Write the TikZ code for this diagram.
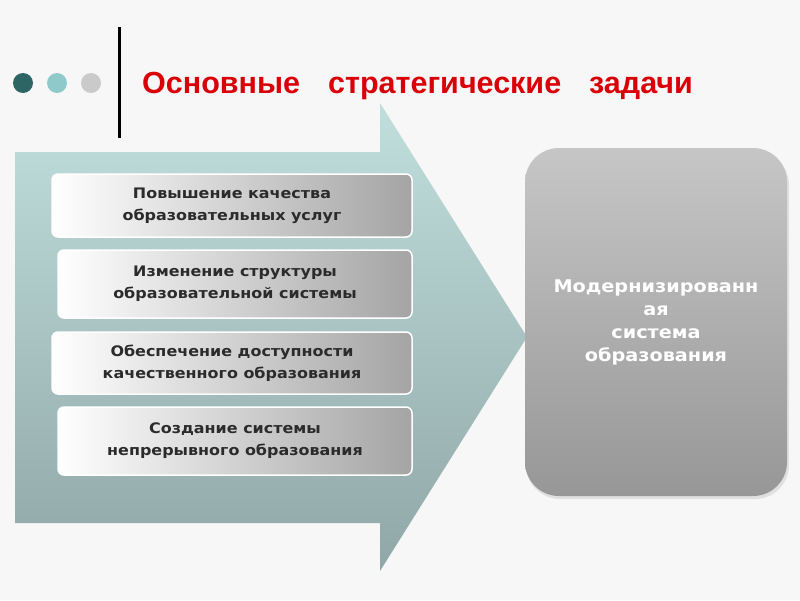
\documentclass[tikz,border=0pt]{standalone}
\usepackage{fontspec}
\setmainfont{DejaVu Sans}
\newfontfamily\wideface[FakeStretch=1.1]{DejaVu Sans}
\newfontfamily\titlefont{Liberation Sans}
\definecolor{bg}{HTML}{F7F7F7}
\definecolor{arrowtop}{HTML}{C0DFDC}
\definecolor{arrowbot}{HTML}{90A7A7}
\definecolor{dotA}{HTML}{2D6565}
\definecolor{dotB}{HTML}{90C9C9}
\definecolor{dotC}{HTML}{CACACA}
\definecolor{boxright}{HTML}{A4A4A4}
\definecolor{boxtext}{HTML}{2B2B2B}
\definecolor{resTop}{HTML}{C6C6C6}
\definecolor{resBot}{HTML}{979797}
\definecolor{titlered}{HTML}{DA0008}
\tikzset{
  taskbox/.style={rounded corners=6pt, draw=white, line width=1.5pt,
    left color=white, right color=boxright, text=boxtext,
    align=center, inner sep=0pt,
    font=\wideface\bfseries\fontsize{14.5}{22}\selectfont},
  resultbox/.style={rounded corners=34pt, top color=resTop, bottom color=resBot,
    text=white, align=center, inner sep=0pt,
    font=\wideface\bfseries\fontsize{17.5}{23}\selectfont,
    minimum width=262pt, minimum height=348pt},
  dot/.style={circle, inner sep=0pt, minimum size=20pt}
}
\begin{document}
\begin{tikzpicture}[x=1pt,y=-1pt]
\fill[bg] (0,0) rectangle (800,600);
\useasboundingbox (0,0) rectangle (800,600);
% dots and bar
\node[dot, fill=dotA] (d1) at (23,83) {};
\node[dot, fill=dotB] (d2) at (57,83) {};
\node[dot, fill=dotC] (d3) at (91,83) {};
\draw[line width=3pt] (119,27) -- (119,138);
\node[anchor=base west, inner sep=0pt, text=titlered,
  font=\titlefont\bfseries\fontsize{30.5}{34}\selectfont] (title) at (142,93)
  {Основные\hspace{28pt}стратегические\hspace{28pt}задачи};
% big arrow
\shade[top color=arrowtop, bottom color=arrowbot]
  (15,152) -- (380,152) -- (380,103) -- (527,337) -- (380,571) -- (380,523) -- (15,523) -- cycle;
% task boxes
\node[taskbox, minimum width=360pt, minimum height=63pt] (t1) at (232,205.5)
  {Повышение качества\\образовательных услуг};
\node[taskbox, minimum width=354pt, minimum height=68pt] (t2) at (235,284)
  {Изменение структуры\\образовательной системы};
\node[taskbox, minimum width=360pt, minimum height=62pt] (t3) at (232,363)
  {Обеспечение доступности\\качественного образования};
\node[taskbox, minimum width=354pt, minimum height=68pt] (t4) at (235,441)
  {Создание системы\\непрерывного образования};
% result
\fill[black!12, rounded corners=34pt] (526,151) rectangle (789,499);
\node[resultbox] (res) at (656,322)
  {Модернизированн\\ая\\система\\образования};
\end{tikzpicture}
\end{document}
